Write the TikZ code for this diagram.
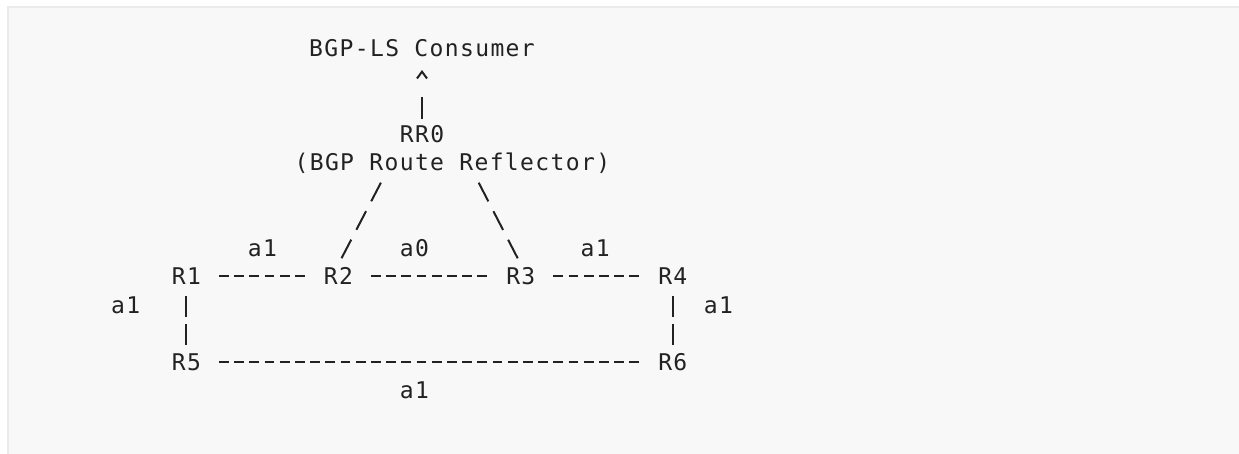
\documentclass[tikz,border=0pt]{standalone}
\usepackage{fontspec}
\usepackage{xcolor}
\usepackage{tikz}
\usetikzlibrary{arrows.meta, calc}
\newfontfamily\asciifont{DejaVu Sans Mono}[LetterSpace=6]
\definecolor{codeBack}{HTML}{F8F8F8}
\definecolor{codeRule}{HTML}{EBEBEB}
\definecolor{codeInk}{HTML}{222222}
\tikzset{
	ascii/.style={inner sep=0pt, text height=8.4pt, text depth=0pt, text=codeInk, font=\asciifont\fontsize{11.5pt}{14pt}\selectfont},
	hlink/.style={draw=codeInk, line width=1pt, dash pattern=on 4.85pt off 2.75pt, shorten <=16.3pt, shorten >=16.3pt},
	vlink/.style={draw=codeInk, line width=1pt, dash pattern=on 10.5pt off 3.75pt, shorten <=9.6pt, shorten >=8.15pt},
	slink/.style={draw=codeInk, line width=1pt, dash pattern=on 10.5pt off 5.55pt},
	uplink/.style={draw=codeInk, line width=1pt, dash pattern=on 11.3pt off 20pt, shorten <=7.35pt, shorten >=10.75pt, -{Straight Barb[length=3.4pt, width=5pt]}}
}

\begin{document}
\begin{tikzpicture}[x=0.5pt, y=-0.5pt]

	% page and code block
	\fill[white] (0,0) rectangle (1239,454);
	\fill[codeRule] (7,6) rectangle (1239,454);
	\fill[codeBack] (9,8) rectangle (1239,454);
	\useasboundingbox (0,0) rectangle (1239,454);

	\node[ascii] (cons) at (422,48.5) {BGP-LS Consumer};
	\node[ascii] (RR0) at (422,134) {RR0};
	\node[ascii] (refl) at (452.4,162.5) {(BGP Route Reflector)};

	\node[ascii] (R1) at (186.4,276.5) {R1};
	\node[ascii] (R2) at (338.4,276.5) {R2};
	\node[ascii] (R3) at (520.8,276.5) {R3};
	\node[ascii] (R4) at (672.8,276.5) {R4};
	\node[ascii] (R5) at (186.4,362) {R5};
	\node[ascii] (R6) at (672.8,362) {R6};

	\node[ascii] (a12) at (262.4,248) {a1};
	\node[ascii] (a23) at (414.4,248) {a0};
	\node[ascii] (a34) at (595.2,248) {a1};
	\node[ascii] (a15) at (125.6,305) {a1};
	\node[ascii] (a46) at (718.4,305) {a1};
	\node[ascii] (a56) at (414.4,390.5) {a1};

	\draw[uplink] (RR0.center) -- (cons.center);

	\draw[slink] ($ (refl.center)+(-71.5,20.2) $) -- ($ (R2.center)+(3.1,-18.2) $);
	\draw[slink] ($ (refl.center)+(26.3,20.2) $) -- ($ (R3.center)+(-3.1,-18.2) $);

	\draw[hlink] (R1.center) -- (R2.center);
	\draw[hlink] (R2.center) -- (R3.center);
	\draw[hlink] (R3.center) -- (R4.center);
	\draw[hlink] (R5.center) -- (R6.center);

	\draw[vlink] (R1.center) -- (R5.center);
	\draw[vlink] (R4.center) -- (R6.center);

\end{tikzpicture}
\end{document}
